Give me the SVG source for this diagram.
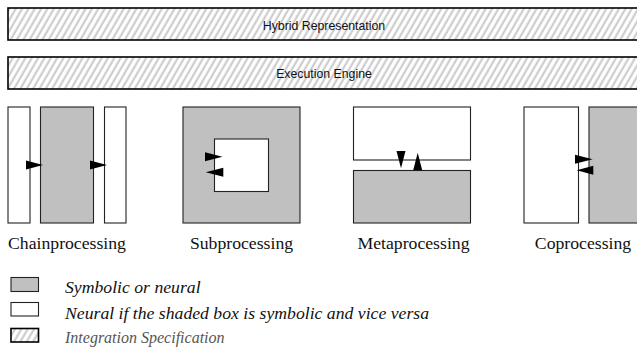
<svg xmlns="http://www.w3.org/2000/svg" width="637" height="347" viewBox="0 0 637 347">
<defs>
<pattern id="hatch" width="5.5" height="5.5" patternUnits="userSpaceOnUse" patternTransform="rotate(30)">
<rect width="5.5" height="5.5" fill="#ffffff"/>
<line x1="1.5" y1="0" x2="1.5" y2="5.5" stroke="#c8c8c8" stroke-width="2"/>
</pattern>
</defs>
<style>
.bar{fill:url(#hatch);stroke:#000;stroke-width:1.6}
.barText{font-family:"Liberation Sans",Arial,sans-serif;font-size:12.3px;fill:#111;text-anchor:middle}
.shaded{fill:#c0c0c0;stroke:#222;stroke-width:1.1}
.plain{fill:#ffffff;stroke:#222;stroke-width:1.1}
.label{font-family:"Liberation Serif","Times New Roman",serif;font-size:17.7px;fill:#111;text-anchor:middle}
.legend{font-family:"Liberation Serif","Times New Roman",serif;font-size:17.7px;font-style:italic;fill:#111}
.legendGray{font-family:"Liberation Serif","Times New Roman",serif;font-size:16px;font-style:italic;fill:#555}
.arrow{fill:#000;stroke:none}
</style>
<rect width="637" height="347" fill="#ffffff"/>

<g id="hybrid-representation">
<rect class="bar" x="8" y="8" width="640" height="32"/>
<text class="barText" x="324" y="30">Hybrid Representation</text>
</g>
<g id="execution-engine">
<rect class="bar" x="8" y="57" width="640" height="32"/>
<text class="barText" x="324" y="78">Execution Engine</text>
</g>

<g id="chainprocessing">
<rect class="plain" x="8" y="107" width="22" height="116"/>
<rect class="shaded" x="40.5" y="107" width="53" height="116"/>
<rect class="plain" x="104.5" y="107" width="21.5" height="116"/>
<text class="label" x="67" y="249">Chainprocessing</text>
</g>

<g id="subprocessing">
<rect class="shaded" x="183" y="107" width="117" height="116"/>
<rect class="plain" x="214.5" y="139" width="54" height="52.5"/>
<text class="label" x="241.5" y="249">Subprocessing</text>
</g>

<g id="metaprocessing">
<rect class="plain" x="353.5" y="107" width="117" height="53"/>
<rect class="shaded" x="353.5" y="170.5" width="117" height="52.5"/>
<text class="label" x="413.5" y="249">Metaprocessing</text>
</g>

<g id="coprocessing">
<rect class="plain" x="524" y="107" width="54.5" height="116"/>
<rect class="shaded" x="589" y="107" width="60" height="116"/>
<text class="label" x="583" y="249">Coprocessing</text>
</g>

<g id="connectors">
<polygon class="arrow" points="26,160.5 43,165 26,169.5"/>
<polygon class="arrow" points="90,160.5 107,165 90,169.5"/>
<polygon class="arrow" points="205,152.2 222.5,156.7 205,161.2"/>
<polygon class="arrow" points="223.3,167.8 205.7,172.3 223.3,176.8"/>
<polygon class="arrow" points="396.5,151 405.5,151 401,168.3"/>
<polygon class="arrow" points="413.2,170.3 422.2,170.3 417.7,152.7"/>
<polygon class="arrow" points="575,154.8 592.7,159.3 575,163.8"/>
<polygon class="arrow" points="593.3,165.8 576.7,170.3 593.3,174.8"/>
</g>

<g id="legend">
<rect class="shaded" x="11" y="277.5" width="27.5" height="14"/>
<text class="legend" x="65" y="293">Symbolic or neural</text>
<rect class="plain" x="11" y="302.5" width="27.5" height="13.5"/>
<text class="legend" x="65" y="319">Neural if the shaded box is symbolic and vice versa</text>
<rect class="bar" x="11" y="328.5" width="27.5" height="13.5"/>
<text class="legendGray" x="65" y="343">Integration Specification</text>
</g>
</svg>
